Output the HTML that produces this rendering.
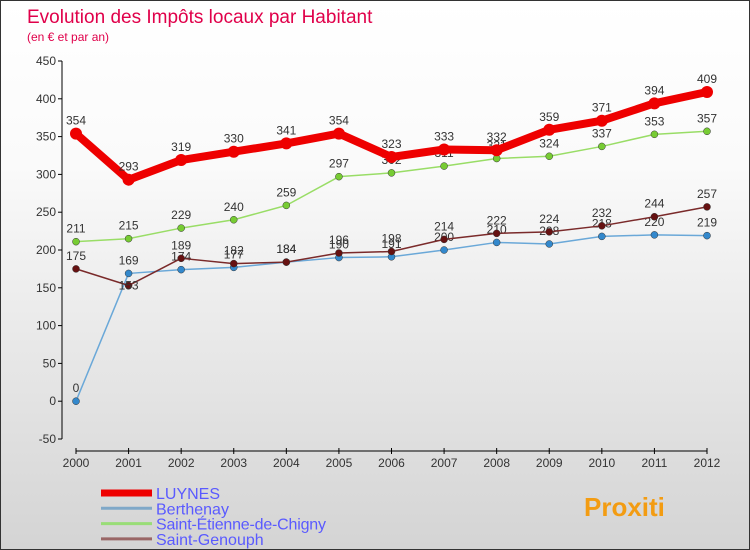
<!DOCTYPE html>
<html><head><meta charset="utf-8"><style>
body{margin:0}
#c{width:750px;height:550px;position:relative;font-family:"Liberation Sans",sans-serif;background:linear-gradient(#fff,#fafafa 30%,#d4d4d4);border:1px solid #333;box-sizing:border-box;overflow:hidden}
</style></head><body>
<div id="c">
<svg id="s" width="750" height="550" style="position:absolute;left:0;top:0"></svg>
</div>
<script>
const years=["2000","2001","2002","2003","2004","2005","2006","2007","2008","2009","2010","2011","2012"];
const luynes=[354,293,319,330,341,354,323,333,332,359,371,394,409];
const berthenay=[0,169,174,177,184,190,191,200,210,208,218,220,219];
const stEtienne=[211,215,229,240,259,297,302,311,321,324,337,353,357];
const stGenouph=[175,153,189,182,184,196,198,214,222,224,232,244,257];
const yTicks=[-50,0,50,100,150,200,250,300,350,400,450];
const NS="http://www.w3.org/2000/svg";
const s=document.getElementById('s');
function X(i){return 75+i*(706-75)/12;}
function Y(v){return 438-(v+50)*378/500;}
function el(t,a,p){const e=document.createElementNS(NS,t);for(const k in a)e.setAttribute(k,a[k]);(p||s).appendChild(e);return e;}
let t=el('text',{x:26,y:22,fill:'#e0004a','font-size':19});t.textContent='Evolution des Impôts locaux par Habitant';

t=el('text',{x:26,y:40,fill:'#e0004a','font-size':12});t.textContent='(en € et par an)';

let ax=el('g',{});
el('line',{x1:61,y1:Y(450),x2:61,y2:Y(-50),stroke:'#000'},ax);
yTicks.forEach(v=>{el('line',{x1:57,y1:Y(v),x2:61,y2:Y(v),stroke:'#000'},ax);
 const l=el('text',{x:55,y:Y(v)+4,'text-anchor':'end','font-size':12,fill:'#333'},ax);l.textContent=v;});
let xa=el('g',{});
el('line',{x1:75,y1:450,x2:706,y2:450,stroke:'#000'},xa);
years.forEach((y,i)=>{el('line',{x1:X(i),y1:447,x2:X(i),y2:453,stroke:'#000'},xa);
 const l=el('text',{x:X(i),y:466,'text-anchor':'middle','font-size':12,fill:'#333'},xa);l.textContent=y;});
function series(name,data,color,w,r,dotFill,labelBelow){
 const g=el('g',{});
 el('polyline',{points:data.map((v,i)=>X(i)+','+Y(v)).join(' '),fill:'none',stroke:color,'stroke-width':w,'stroke-linejoin':'round'},g);
 data.forEach((v,i)=>{const c=el('circle',{cx:X(i),cy:Y(v),r:r,fill:dotFill,stroke:w>3?'none':'#333','stroke-width':0.5},g);
  
  const l=el('text',{x:X(i),y:Y(v)-(labelBelow&&i==1?-4:9),'text-anchor':'middle','font-size':12,fill:'#333'},g);l.textContent=v;});
}
series('saint-etienne',stEtienne,'#99dd66',1.5,3.5,'#77cc33');
series('berthenay',berthenay,'#6aa8d8',1.5,3.5,'#3388cc');
series('saint-genouph',stGenouph,'#7a2a2a',1.5,3.5,'#661111',true);
series('luynes',luynes,'#ee0000',8,6,'#ee0000');
const leg=[['LUYNES','#ee0000',7,0],['Berthenay','#7fa8c8',3,0],['Saint-Étienne-de-Chigny','#99dd77',3,170],['Saint-Genouph','#996666',3,0]];
leg.forEach((d,i)=>{const g=el('g',{});
 const y=492+i*15.3;el('line',{x1:100,y1:y,x2:151,y2:y,stroke:d[1],'stroke-width':d[2]},g);
 const l=el('text',{x:155,y:y+6,'font-size':16,fill:'#5a5aff'},g);l.textContent=d[0];
 if(d[3])l.setAttribute('textLength',d[3]);});
const p=el('text',{x:583,y:515,'font-size':26,'font-weight':'bold',fill:'#f39c12'});p.textContent='Proxiti';

</script>
</body></html>
